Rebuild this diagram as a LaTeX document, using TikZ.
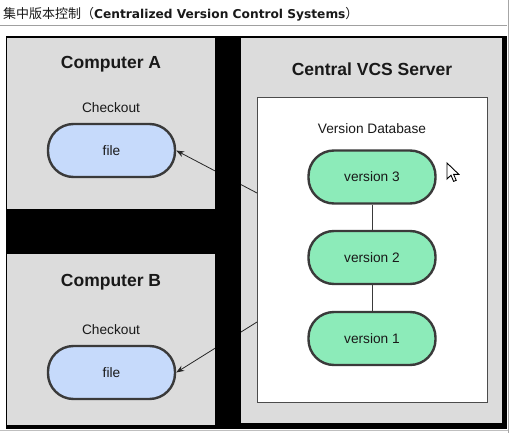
\documentclass[tikz,border=0pt]{standalone}
\usepackage{fontspec}
\setmainfont{Liberation Sans}
\newfontfamily\cjk{Noto Sans CJK SC}
\newfontfamily\titlefont{DejaVu Sans}
\usetikzlibrary{arrows.meta}
\definecolor{panelgray}{HTML}{DCDCDC}
\definecolor{fileblue}{HTML}{C6DAFB}
\definecolor{vergreen}{HTML}{8CEBB9}
\definecolor{edgegray}{HTML}{3A3A3A}
\definecolor{titleline}{HTML}{A0A0A0}
\tikzset{
  heading/.style={font=\bfseries\fontsize{17.5}{20}\selectfont, text=black!90, inner sep=0pt},
  label/.style={font=\fontsize{13.7}{16}\selectfont, text=black!90, inner sep=0pt},
  pill/.style={draw=edgegray, line width=2.4pt, rounded corners=25.5pt,
    minimum width=127pt, minimum height=53pt, inner sep=0pt,
    font=\fontsize{13.7}{16}\selectfont, text=black!90},
  filepill/.style={pill, fill=fileblue},
  verpill/.style={pill, fill=vergreen},
  fetch/.style={draw=black!85, line width=0.8pt, -{Stealth[length=8pt,width=6pt]}},
  chain/.style={draw=edgegray, line width=1pt},
}
\begin{document}
\begin{tikzpicture}[x=1pt,y=-1pt]
\useasboundingbox (0,0) rectangle (511,433);
\fill[white] (0,0) rectangle (511,433);
% title
\node[anchor=west, inner sep=0pt, text=black!90] (title) at (3,14.5)
  {{\cjk\fontsize{13}{15}\selectfont 集中版本控制（}{\titlefont\bfseries\fontsize{12.2}{15}\selectfont Centralized Version Control Systems}{\cjk\fontsize{13}{15}\selectfont ）}};
\draw[titleline, line width=0.8pt] (0,25.5) -- (507,25.5);
\draw[black!35, line width=0.8pt] (508.5,0) -- (508.5,433);
\draw[black!25, line width=1pt] (0,430) -- (508,430);
% frame
\fill[black] (5.5,36) rectangle (507,428.5);
\fill[panelgray] (7,38) rectangle (215,209);
\fill[panelgray] (7,254) rectangle (215,425);
\fill[panelgray] (241,38) rectangle (502,423);
% server
\node[heading] (srv) at (372,69) {Central VCS Server};
\node[draw=black!70, line width=0.9pt, fill=white, minimum width=230.5pt, minimum height=305pt, inner sep=0pt] (db) at (372.25,250) {};
\node[label] (dblabel) at (372,128.5) {Version Database};
\node[verpill] (v3) at (372,177) {version 3};
\node[verpill] (v2) at (372,257.5) {version 2};
\node[verpill] (v1) at (372,338.5) {version 1};
\draw[chain] (v3.south) -- (v2.north);
\draw[chain] (v2.south) -- (v1.north);
% computer A
\node[heading] (ca) at (111,64.5) {Computer A};
\node[label] (cka) at (111,107.5) {Checkout};
\node[filepill] (fa) at (111.5,150.5) {file};
% computer B
\node[heading] (cb) at (111,282) {Computer B};
\node[label] (ckb) at (111,329.5) {Checkout};
\node[filepill] (fb) at (111.5,372.5) {file};
% connectors
\coordinate (sA) at (257,193);
\coordinate (sB) at (257,322);
\draw[fetch] (sA) -- (fa.east);
\draw[fetch] (sB) -- (fb.east);
% redraw black bar over connectors
\fill[black] (215,38) rectangle (241,425);
% mouse pointer
\draw[fill=white, draw=black, line width=0.9pt, line join=miter]
  (447,163) -- ++(0,16) -- ++(4,-3.8) -- ++(2.6,6.2) -- ++(2.6,-1.1) -- ++(-2.6,-6) -- ++(5.2,0) -- cycle;
\end{tikzpicture}
\end{document}
